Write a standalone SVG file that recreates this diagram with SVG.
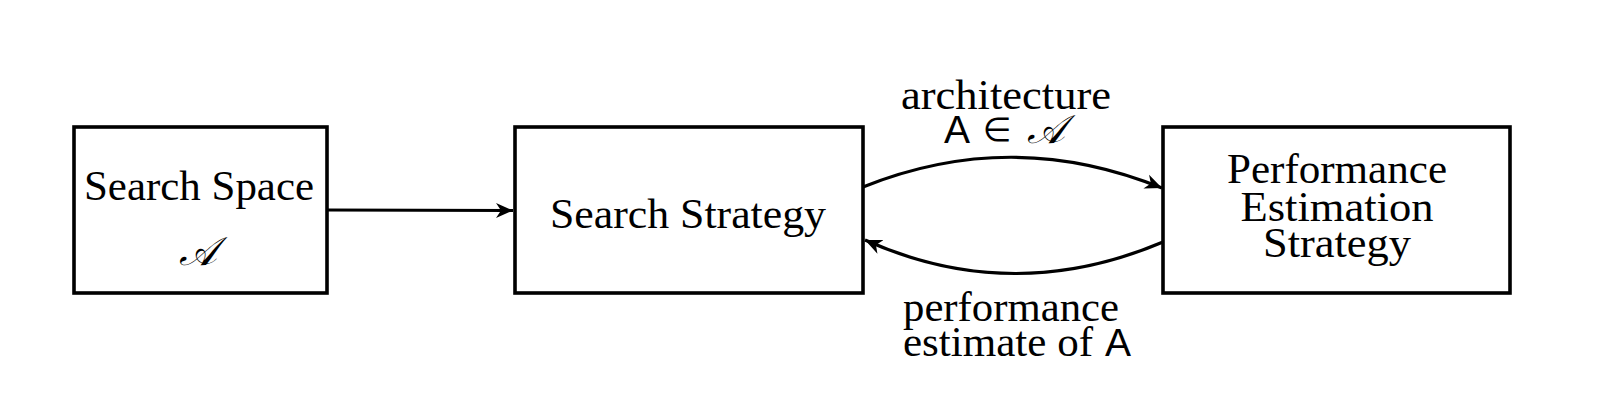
<svg xmlns="http://www.w3.org/2000/svg" width="1599" height="411" viewBox="0 0 1599 411">
<style>
.box{fill:#fff;stroke:#000;stroke-width:3.6}
.t{font-family:'Liberation Serif','Times New Roman',serif;font-size:43px;fill:#000;text-anchor:middle}
.cal{font-family:'DejaVu Sans','Noto Sans',serif;font-style:italic;font-size:40px;fill:#000}
.sans{font-family:'Liberation Sans',Arial,sans-serif;font-size:39px;fill:#000}
.c{fill:none;stroke:#000;stroke-width:3.2;marker-end:url(#ah)}
</style>
<defs>
<marker id="ah" markerUnits="userSpaceOnUse" markerWidth="22" markerHeight="20" refX="17" refY="9" orient="auto">
<path d="M0,1.5 L17,9 L0,16.5 L5,9 Z" fill="#000"/>
</marker>
</defs>
<rect width="1599" height="411" fill="#fff"/>
<g id="search-space">
<rect class="box" x="74" y="127" width="253" height="166"/>
<text class="t" x="199" y="200" textLength="230" lengthAdjust="spacingAndGlyphs">Search Space</text>
<text class="cal" x="198" y="265" text-anchor="middle">𝒜</text>
</g>
<g id="search-strategy">
<rect class="box" x="515" y="127" width="348" height="166"/>
<text class="t" x="688" y="228" textLength="276" lengthAdjust="spacingAndGlyphs">Search Strategy</text>
</g>
<g id="performance-estimation">
<rect class="box" x="1163" y="127" width="347" height="166"/>
<text class="t" x="1337" y="183" textLength="220" lengthAdjust="spacingAndGlyphs">Performance</text>
<text class="t" x="1337" y="221" textLength="193" lengthAdjust="spacingAndGlyphs">Estimation</text>
<text class="t" x="1337" y="257" textLength="148" lengthAdjust="spacingAndGlyphs">Strategy</text>
</g>
<g id="connectors">
<path class="c" d="M327,210 L513,210.5"/>
<path class="c" d="M863,187 Q1012,127 1162,188"/>
<path class="c" d="M1163,242 Q1012,306 865,240"/>
</g>
<g id="labels">
<text class="t" x="1006" y="109" textLength="210" lengthAdjust="spacingAndGlyphs">architecture</text>
<text class="sans" x="944" y="143">A</text>
<text x="997" y="141" text-anchor="middle" font-family="DejaVu Sans,sans-serif" font-size="33px">∈</text>
<text class="cal" x="1046" y="143" text-anchor="middle">𝒜</text>
<text class="t" x="1011" y="321" textLength="216" lengthAdjust="spacingAndGlyphs">performance</text>
<text class="t" x="903" y="356" style="text-anchor:start" textLength="190" lengthAdjust="spacingAndGlyphs">estimate of</text>
<text class="sans" x="1105" y="356">A</text>
</g>
</svg>
